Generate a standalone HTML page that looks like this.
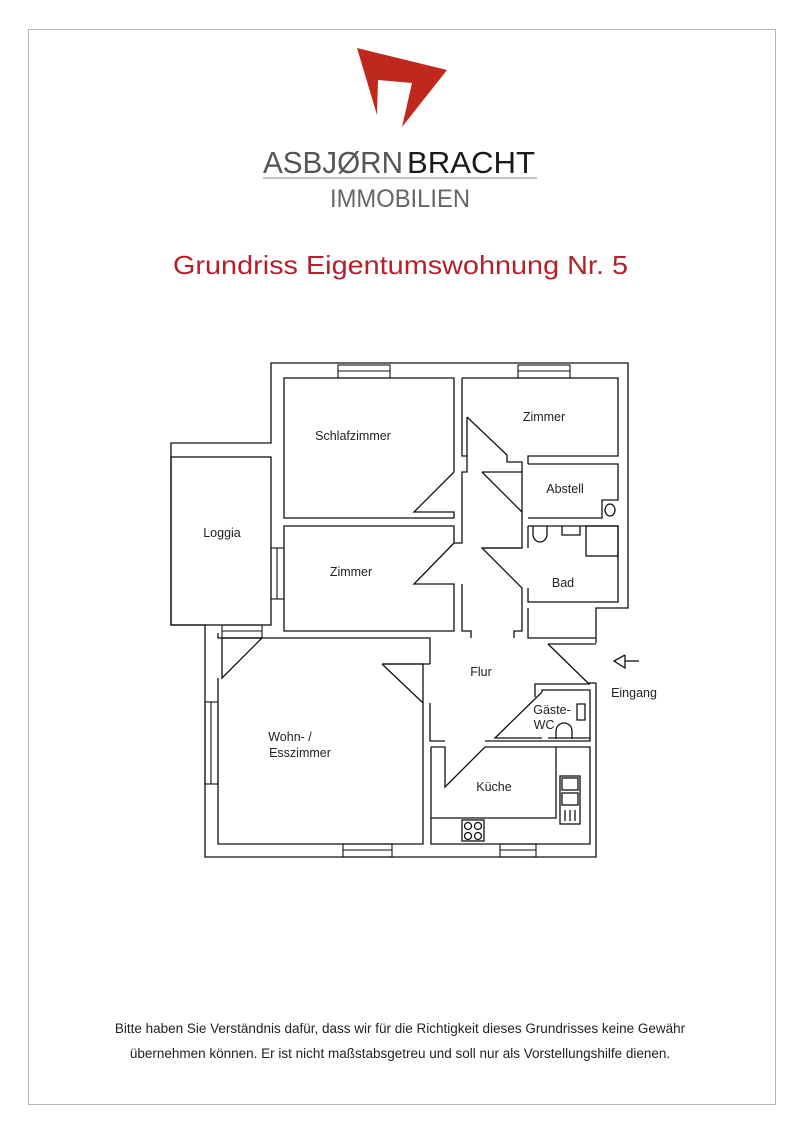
<!DOCTYPE html>
<html><head><meta charset="utf-8">
<style>
html,body{margin:0;padding:0;background:#fff;}
body{width:800px;height:1133px;position:relative;overflow:hidden;font-family:"Liberation Sans",sans-serif;}
.frame{position:absolute;left:28px;top:29px;width:746px;height:1074px;border:1px solid #b5b5b5;}
.foot{position:absolute;left:0;width:800px;text-align:center;font-size:13.5px;color:#222;}
</style></head><body>
<div class="frame"></div>
<svg width="800" height="1133" style="position:absolute;left:0;top:0" xmlns="http://www.w3.org/2000/svg">
<polygon points="357,48 447,70 402,127 412,83 378,80 377,115" fill="#c0281e"/>
<text x="263" y="173" font-family="Liberation Sans" font-size="31" font-weight="300" fill="#555" textLength="140" lengthAdjust="spacingAndGlyphs" style="font-weight:200">ASBJØRN</text>
<text x="407" y="173" font-family="Liberation Sans" font-size="31" fill="#1a1a1a" textLength="128" lengthAdjust="spacingAndGlyphs">BRACHT</text>
<line x1="263" y1="178" x2="537" y2="178" stroke="#888" stroke-width="1"/>
<text x="330" y="207" font-family="Liberation Sans" font-size="25" fill="#666" textLength="140" lengthAdjust="spacingAndGlyphs">IMMOBILIEN</text>
<text x="173" y="274" font-family="Liberation Sans" font-size="26" fill="#b3222a" textLength="455" lengthAdjust="spacingAndGlyphs">Grundriss  Eigentumswohnung Nr. 5</text>

<g fill="none" stroke="#111" stroke-width="1.3">
<!-- outer boundary -->
<polyline points="205,633 205,857 596,857 596,683"/>
<polyline points="596,643 596,608 628,608 628,363 271,363 271,443 171,443 171,625 205,625 205,633"/>
<!-- loggia interior -->
<rect x="171" y="457" width="100" height="168"/>
<!-- Schlafzimmer -->
<polyline points="454,472 454,378 284,378 284,518 454,518 454,512 414,512 454,472"/>
<!-- Zimmer left -->
<polyline points="454,543 454,526 284,526 284,631 454,631 454,584 414,584 454,543"/>
<!-- corridor walls -->
<polyline points="462,378 462,456 467,456 467,472 462,472 462,512"/>
<polyline points="462,512 462,543 454,543"/>
<polyline points="462,584 462,631 471,631 471,638"/>
<!-- Zimmer right -->
<polyline points="467,417 507,455 507,462 522,462 522,472"/>
<polyline points="467,417 467,456"/>
<polyline points="462,378 618,378 618,456 528,456 528,464"/>
<!-- Abstell -->
<polyline points="482,472 522,472 522,512"/>
<line x1="482" y1="472" x2="522" y2="512"/>
<polyline points="528,464 618,464 618,500 602,500 602,518 528,518"/>
<ellipse cx="610" cy="510" rx="5" ry="6"/>
<!-- Bad -->
<polyline points="522,512 522,548 482,548 522,588 522,631 514,631 514,638"/>
<line x1="482" y1="548" x2="522" y2="548"/>
<polyline points="528,526 618,526 618,602 528,602 528,588"/>
<line x1="528" y1="526" x2="528" y2="548"/>
<path d="M533,526 v8 a7,8 0 0 0 14,0 v-8"/>
<path d="M562,526 v9 h18 v-9"/>
<rect x="586" y="526" width="32" height="30"/>
<!-- Flur bottom/right area -->
<polyline points="528,608 528,638 596,638"/>
<polyline points="548,644 596,644"/>
<line x1="548" y1="644" x2="588" y2="683"/>
<polyline points="588,683 596,683"/>
<!-- Wohn -->
<polyline points="423,703 423,844 218,844 218,678"/>
<polyline points="218,633 218,638 262,638"/>
<polygon points="222,638 262,638 222,678"/>
<polyline points="262,638 430,638 430,664"/>
<polyline points="382,664 423,664 423,703 382,664"/>
<line x1="382" y1="664" x2="430" y2="664"/>
<polyline points="430,703 430,741 445,741"/>
<!-- Küche -->
<polyline points="431,747 431,844 590,844 590,747 485,747 445,787 445,747 431,747"/>
<polyline points="485,741 590,741 590,690 542,690 542,692"/>
<polyline points="431,818 556,818 556,747"/>
<rect x="462" y="820" width="22" height="21"/>
<circle cx="468" cy="826" r="3.5"/><circle cx="478" cy="826" r="3.5"/>
<circle cx="468" cy="836" r="3.5"/><circle cx="478" cy="836" r="3.5"/>
<rect x="560" y="776" width="20" height="48"/>
<rect x="562" y="778" width="16" height="12"/><rect x="562" y="793" width="16" height="12"/>
<line x1="565" y1="810" x2="565" y2="821"/><line x1="570" y1="810" x2="570" y2="821"/><line x1="575" y1="810" x2="575" y2="821"/>
<!-- Gäste-WC -->
<polyline points="535,697 535,684 590,684"/>
<polyline points="542,692 495,738 542,738"/>
<polyline points="548,738 590,738"/>
<path d="M577,704 h8 v16 h-8 z"/>
<path d="M556,739 v-8 a8,8 0 0 1 16,0 v8"/>
<!-- windows -->
<g stroke-width="1.1">
<rect x="338" y="365" width="52" height="13"/><line x1="338" y1="371" x2="390" y2="371"/>
<rect x="518" y="365" width="52" height="13"/><line x1="518" y1="371" x2="570" y2="371"/>
<rect x="271" y="548" width="13" height="51"/><line x1="277" y1="548" x2="277" y2="599"/>
<rect x="205" y="702" width="13" height="82"/><line x1="211" y1="702" x2="211" y2="784"/>
<rect x="343" y="844" width="49" height="13"/><line x1="343" y1="850" x2="392" y2="850"/>
<rect x="500" y="844" width="36" height="13"/><line x1="500" y1="850" x2="536" y2="850"/>
<rect x="222" y="625" width="40" height="13"/><line x1="222" y1="631" x2="262" y2="631"/>
</g>
<!-- entrance arrow -->
<polyline points="625,655 614,661 625,668 625,655"/>
<line x1="625" y1="661" x2="639" y2="661"/>
</g>
<g font-family="Liberation Sans" font-size="12.5" fill="#222" text-anchor="middle">
<text x="353" y="440">Schlafzimmer</text>
<text x="351" y="576">Zimmer</text>
<text x="222" y="537">Loggia</text>
<text x="544" y="421">Zimmer</text>
<text x="565" y="493">Abstell</text>
<text x="563" y="587">Bad</text>
<text x="481" y="676">Flur</text>
<text x="634" y="697">Eingang</text>
<text x="552" y="714">Gäste-</text>
<text x="544" y="729">WC</text>
<text x="290" y="741">Wohn- /</text>
<text x="300" y="757">Esszimmer</text>
<text x="494" y="791">Küche</text>
</g>
</svg>
<div class="foot" style="top:1021px">Bitte haben Sie Verständnis dafür, dass wir für die Richtigkeit dieses Grundrisses keine Gewähr</div>
<div class="foot" style="top:1046px">übernehmen können. Er ist nicht maßstabsgetreu und soll nur als Vorstellungshilfe dienen.</div>
</body></html>
